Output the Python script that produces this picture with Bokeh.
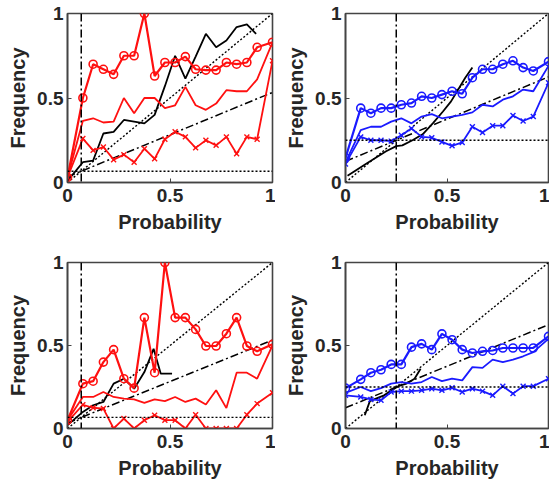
from bokeh.plotting import figure
from bokeh.layouts import gridplot
from bokeh.models import Range1d, FixedTicker, Span
from bokeh.embed import file_html
from bokeh.resources import INLINE

# ---------------- data ----------------
prob_bins = [0, 0.075, 0.125, 0.175, 0.225, 0.275, 0.325, 0.375, 0.425, 0.475,
             0.525, 0.575, 0.625, 0.675, 0.725, 0.775, 0.825, 0.875, 0.925, 1.0]
tick_values = [0, 0.5, 1]
tick_labels = ["0", "0.5", "1"]
diag_x = [0, 1]
diag_y = [0, 1]

# panel A (top-left, red)
a_base = 0.067
a_noskill = [0.033, 0.533]
a_circ = [0.03, 0.50, 0.70, 0.67, 0.64, 0.75, 0.75, 1.00, 0.63, 0.71,
          0.71, 0.745, 0.67, 0.665, 0.665, 0.71, 0.70, 0.71, 0.80, 0.83]
a_line = [0.03, 0.365, 0.38, 0.355, 0.36, 0.50, 0.41, 0.50, 0.50, 0.44,
          0.457, 0.566, 0.457, 0.43, 0.467, 0.546, 0.54, 0.54, 0.61, 0.83]
a_cross = [0.03, 0.26, 0.19, 0.21, 0.135, 0.165, 0.12, 0.20, 0.14, 0.256,
           0.30, 0.27, 0.205, 0.25, 0.22, 0.27, 0.17, 0.27, 0.256, 0.72]
a_black_x = [0, 0.075, 0.125, 0.175, 0.225, 0.275, 0.325, 0.375, 0.425, 0.475,
             0.525, 0.575, 0.625, 0.675, 0.725, 0.775, 0.825, 0.875, 0.92]
a_black_y = [0.01, 0.12, 0.13, 0.29, 0.30, 0.37, 0.36, 0.35, 0.40, 0.57,
             0.75, 0.615, 0.745, 0.88, 0.80, 0.84, 0.92, 0.935, 0.88]

# panel B (top-right, blue)
b_base = 0.25
b_noskill = [0.125, 0.625]
b_circ = [0.145, 0.44, 0.41, 0.44, 0.44, 0.46, 0.47, 0.51, 0.50, 0.52,
          0.54, 0.525, 0.62, 0.67, 0.67, 0.70, 0.72, 0.68, 0.66, 0.715]
b_line = [0.12, 0.31, 0.33, 0.33, 0.36, 0.38, 0.35, 0.39, 0.405, 0.38,
          0.39, 0.40, 0.415, 0.46, 0.45, 0.49, 0.51, 0.55, 0.54, 0.69]
b_cross = [0.11, 0.27, 0.25, 0.25, 0.245, 0.28, 0.32, 0.27, 0.265, 0.24,
           0.217, 0.237, 0.33, 0.296, 0.336, 0.336, 0.396, 0.364, 0.39, 0.59]
b_black_x = [0.01, 0.1, 0.2, 0.25, 0.28, 0.33, 0.38, 0.43, 0.48, 0.52, 0.55, 0.59, 0.625]
b_black_y = [0.04, 0.11, 0.185, 0.215, 0.22, 0.25, 0.285, 0.35, 0.42, 0.48, 0.54, 0.62, 0.68]

# panel C (bottom-left, red)
c_base = 0.067
c_noskill = [0.033, 0.533]
c_circ = [0.05, 0.27, 0.285, 0.40, 0.475, 0.30, 0.243, 0.668, 0.336, 1.0,
          0.668, 0.668, 0.597, 0.497, 0.497, 0.571, 0.668, 0.497, 0.465, 0.507]
c_line = [0.05, 0.19, 0.19, 0.22, 0.19, 0.18, 0.175, 0.155, 0.175, 0.165,
          0.19, 0.16, 0.18, 0.145, 0.23, 0.123, 0.336, 0.336, 0.30, 0.50]
c_cross = [0.04, 0.143, 0.125, 0.12, 0.0, 0.06, 0.0, 0.05, 0.08, 0.05,
           0.05, 0.0, 0.083, 0.0, 0.0, 0.0, 0.0, 0.083, 0.15, 0.215]
c_black_x = [0, 0.075, 0.125, 0.175, 0.225, 0.275, 0.325, 0.375, 0.42, 0.455, 0.51]
c_black_y = [0.02, 0.10, 0.14, 0.16, 0.27, 0.30, 0.24, 0.34, 0.48, 0.33, 0.33]

# panel D (bottom-right, blue)
d_base = 0.25
d_noskill = [0.125, 0.625]
d_circ = [0.243, 0.296, 0.336, 0.354, 0.386, 0.386, 0.49, 0.51, 0.475, 0.57,
          0.535, 0.475, 0.455, 0.465, 0.47, 0.485, 0.485, 0.485, 0.485, 0.555]
d_line = [0.215, 0.25, 0.225, 0.243, 0.27, 0.28, 0.27, 0.28, 0.31, 0.285,
          0.30, 0.29, 0.37, 0.365, 0.415, 0.40, 0.415, 0.435, 0.46, 0.54]
d_cross = [0.20, 0.19, 0.175, 0.17, 0.22, 0.225, 0.225, 0.23, 0.24, 0.23,
           0.245, 0.22, 0.24, 0.225, 0.20, 0.255, 0.21, 0.255, 0.255, 0.30]
d_black_x = [0.095, 0.12, 0.15, 0.19, 0.22, 0.26, 0.30, 0.34, 0.37]
d_black_y = [0.08, 0.165, 0.18, 0.20, 0.225, 0.255, 0.27, 0.30, 0.36]

# ---------------- styling ----------------
FONT = "Liberation Sans"
TXT = "#262626"


def make_panel(color, circ, line, cross, bx, by, base, noskill,
               width, height, bl, br, bt, bb):
    p = figure(width=width, height=height, output_backend="svg",
               toolbar_location=None,
               x_range=Range1d(0, 1), y_range=Range1d(0, 1),
               min_border_left=bl, min_border_right=br,
               min_border_top=bt, min_border_bottom=bb,
               x_axis_label="Probability", y_axis_label="Frequency")
    p.background_fill_color = "white"
    p.border_fill_color = "white"
    p.outline_line_color = "#444444"
    p.outline_line_width = 1.6
    p.xgrid.visible = False
    p.ygrid.visible = False
    overrides = {v: s for v, s in zip(tick_values, tick_labels)}
    for ax in (p.xaxis[0], p.yaxis[0]):
        ax.ticker = FixedTicker(ticks=tick_values)
        ax.major_label_overrides = overrides
        ax.minor_tick_line_color = None
        ax.major_tick_in = 4
        ax.major_tick_out = 0
        ax.axis_line_color = "#444444"
        ax.axis_line_width = 1.6
        ax.major_tick_line_color = "#444444"
        ax.major_label_text_font = FONT
        ax.major_label_text_font_style = "bold"
        ax.major_label_text_font_size = "19px"
        ax.major_label_text_color = TXT
        ax.axis_label_text_font = FONT
        ax.axis_label_text_font_style = "bold"
        ax.axis_label_text_font_size = "20px"
        ax.axis_label_text_color = TXT
    p.xaxis.major_label_standoff = 6
    p.xaxis.axis_label_standoff = 6
    p.yaxis.major_label_standoff = 4
    p.yaxis.axis_label_standoff = 5

    # reference lines
    p.line(diag_x, diag_y, line_color="black", line_width=1.4, line_dash="2 2")
    p.line(diag_x, noskill, line_color="black", line_width=1.5, line_dash="8 3 2 3")
    p.add_layout(Span(location=base, dimension="width", line_color="black",
                      line_width=1.4, line_dash="2 2"))
    p.add_layout(Span(location=base, dimension="height", line_color="black",
                      line_width=1.5, line_dash="8 3 2 3"))

    # series
    p.line(bx, by, line_color="black", line_width=1.8)
    p.line(prob_bins, line, line_color=color, line_width=1.8)
    p.line(prob_bins, cross, line_color=color, line_width=1.8)
    p.scatter(prob_bins, cross, marker="x", size=7, line_color=color, line_width=1.4)
    p.line(prob_bins, circ, line_color=color, line_width=2.2)
    p.scatter(prob_bins, circ, marker="circle", size=8, line_color=color,
              fill_color=None, line_width=1.6)
    return p


pA = make_panel("#ff1010", a_circ, a_line, a_cross, a_black_x, a_black_y, a_base, a_noskill,
                275, 249, 67, 3, 13, 67)
pB = make_panel("#1a1aff", b_circ, b_line, b_cross, b_black_x, b_black_y, b_base, b_noskill,
                274, 249, 70, 1, 13, 67)
pC = make_panel("#ff1010", c_circ, c_line, c_cross, c_black_x, c_black_y, c_base, c_noskill,
                275, 236, 67, 3, 13, 57)
pD = make_panel("#1a1aff", d_circ, d_line, d_cross, d_black_x, d_black_y, d_base, d_noskill,
                274, 236, 70, 1, 13, 57)

grid = gridplot([[pA, pB], [pC, pD]], toolbar_location=None)

open("out.html", "w").write(file_html(grid, INLINE))
